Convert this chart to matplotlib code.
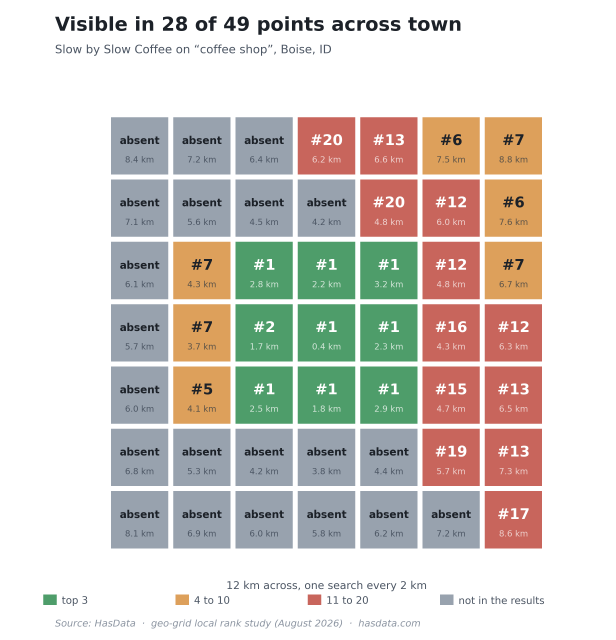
import matplotlib
matplotlib.use("Agg")
import numpy as np
import matplotlib.pyplot as plt
from matplotlib.patches import Rectangle

ranks = [
    [0, 0, 0, 20, 13, 6, 7],
    [0, 0, 0, 0, 20, 12, 6],
    [0, 7, 1, 1, 1, 12, 7],
    [0, 7, 2, 1, 1, 16, 12],
    [0, 5, 1, 1, 1, 15, 13],
    [0, 0, 0, 0, 0, 19, 13],
    [0, 0, 0, 0, 0, 0, 17],
]
distances = [
    [8.4, 7.2, 6.4, 6.2, 6.6, 7.5, 8.8],
    [7.1, 5.6, 4.5, 4.2, 4.8, 6.0, 7.6],
    [6.1, 4.3, 2.8, 2.2, 3.2, 4.8, 6.7],
    [5.7, 3.7, 1.7, 0.4, 2.3, 4.3, 6.3],
    [6.0, 4.1, 2.5, 1.8, 2.9, 4.7, 6.5],
    [6.8, 5.3, 4.2, 3.8, 4.4, 5.7, 7.3],
    [8.1, 6.9, 6.0, 5.8, 6.2, 7.2, 8.6],
]
legend_labels = ["top 3", "4 to 10", "11 to 20", "not in the results"]
GREEN, ORANGE, RED, GREY = "#4e9d6a", "#dda05b", "#c8655c", "#98a2ae"
legend_colors = [GREEN, ORANGE, RED, GREY]
INK = "#1c2128"
MUTED = "#4b5563"

W, H = 616, 640
SS = 4  # text is drawn at 4x and averaged down, for fractional font sizes
fig = plt.figure(figsize=(W / 100, H / 100), dpi=100 * SS, facecolor="white")
ax = fig.add_axes([108.4 / W, 1 - 550.9 / H, 436.2 / W, 436.2 / H])
ax.set_xlim(0, 7)
ax.set_ylim(7, 0)
ax.axis("off")


def style(rank):
    if rank == 0:
        return GREY, INK, "#4b5563"
    if rank <= 3:
        return GREEN, "white", "#d5e8db"
    if rank <= 10:
        return ORANGE, INK, "#5a5248"
    return RED, "white", "#f0d3d0"


size = 0.92
for r, row in enumerate(ranks):
    for c, rank in enumerate(row):
        fill, main, sub = style(rank)
        ax.add_patch(Rectangle((c + (1 - size) / 2, r + (1 - size) / 2), size, size,
                               facecolor=fill, edgecolor="none"))
        if rank == 0:
            ax.text(c + 0.5, r + 0.42, "absent", ha="center", va="center",
                    fontsize=7.5, fontweight="bold", color=main)
        else:
            ax.text(c + 0.5, r + 0.42, f"#{rank}", ha="center", va="center",
                    fontsize=10.5, fontweight="bold", color=main)
        ax.text(c + 0.5, r + 0.73, f"{distances[r][c]:.1f} km", ha="center", va="center",
                fontsize=6.05, color=sub)

fig.text(55 / W, 1 - 25.6 / H, "Visible in 28 of 49 points across town", fontsize=13.87,
         fontweight="bold", color=INK, ha="left", va="center")
fig.text(55 / W, 1 - 50.2 / H, "Slow by Slow Coffee on \u201ccoffee shop\u201d, Boise, ID",
         fontsize=8.35, color=MUTED, ha="left", va="center")
fig.text(326.5 / W, 1 - 586 / H, "12 km across, one search every 2 km", fontsize=7.7,
         color=MUTED, ha="center", va="center")
fig.text(55 / W, 1 - 624 / H,
         "Source: HasData  \u00b7  geo-grid local rank study (August 2026)  \u00b7  hasdata.com",
         fontsize=6.93, style="italic", color="#8a93a0", ha="left", va="center")

# legend: one overlay axes in pixel coordinates
lax = fig.add_axes([0, 0, 1, 1])
lax.set_xlim(0, W)
lax.set_ylim(H, 0)
lax.axis("off")
lax.patch.set_alpha(0)
for i, (label, col) in enumerate(zip(legend_labels, legend_colors)):
    x0 = 43.3 + 132.2 * i
    lax.add_patch(Rectangle((x0, 594.5), 13.5, 10.5, facecolor=col, edgecolor="none"))
    lax.text(x0 + 18.5, 601, label, fontsize=7.3, color=MUTED, ha="left", va="center")

fig.canvas.draw()
rgba = np.asarray(fig.canvas.buffer_rgba())[:, :, :3].astype(float)
small = rgba.reshape(H, SS, W, SS, 3).mean(axis=(1, 3)) / 255
plt.imsave("out.png", small)
